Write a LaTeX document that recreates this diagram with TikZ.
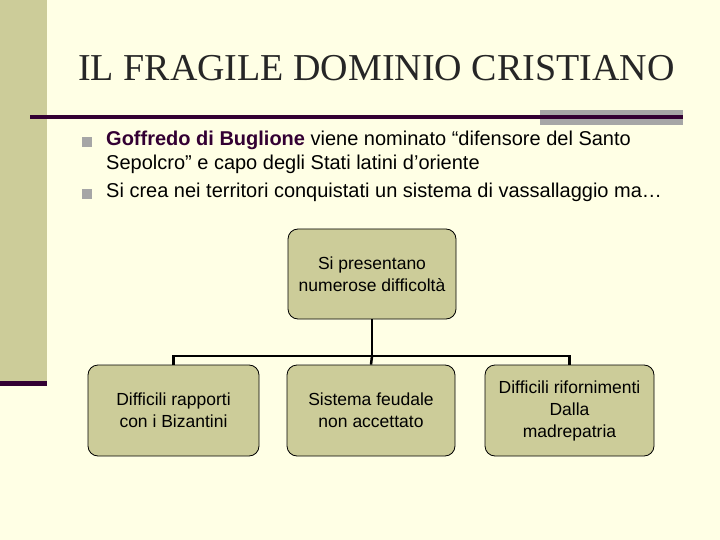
\documentclass[tikz,border=0pt]{standalone}
\usepackage{fontspec}
\setmainfont{Liberation Sans}
\newfontfamily\titlefont{Liberation Serif}
\definecolor{bg}{HTML}{FFFFE5}
\definecolor{tan}{HTML}{CCCC99}
\definecolor{dk}{HTML}{330033}
\definecolor{gr}{HTML}{A6A6A6}
\begin{document}
\begin{tikzpicture}[x=1pt,y=-1pt,
  box/.style={draw=black,fill=tan,rounded corners=10pt,line width=0.8pt,align=center,font=\fontsize{17.5}{22}\selectfont,inner sep=0pt},
  conn/.style={line width=2.5pt,black},
  bul/.style={fill=gr,minimum size=10pt,inner sep=0pt}]
\fill[bg] (0,0) rectangle (720,540);
\useasboundingbox (0,0) rectangle (720,540);
\fill[tan] (0,0) rectangle (47,385);
\fill[dk] (0,381) rectangle (47,386);
\fill[gr] (540,110) rectangle (683,125);
\fill[dk] (30,115.5) rectangle (683,119);
\node[anchor=west,font=\titlefont\fontsize{38}{44}\selectfont,text=black!85,inner sep=0pt] (title) at (78,68) {IL FRAGILE DOMINIO CRISTIANO};
\node[bul] (b1) at (87,142) {};
\node[bul] (b2) at (87,194) {};
\node[anchor=north west,align=left,font=\fontsize{20}{24}\selectfont,inner sep=0pt] (t1) at (106,131) {\textbf{\color{dk}Goffredo di Buglione} viene nominato “difensore del Santo\\Sepolcro” e capo degli Stati latini d’oriente};
\node[anchor=north west,font=\fontsize{20}{24}\selectfont,inner sep=0pt] (t2) at (106,183) {Si crea nei territori conquistati un sistema di vassallaggio ma…};
\node[box,minimum width=168pt,minimum height=90pt] (top) at (372,274) {Si presentano\\numerose difficoltà};
\node[box,minimum width=171pt,minimum height=91pt] (l) at (173.5,410.5) {Difficili rapporti\\con i Bizantini};
\node[box,minimum width=168pt,minimum height=91pt] (m) at (371,410.5) {Sistema feudale\\non accettato};
\node[box,minimum width=169pt,minimum height=91pt] (r) at (569.5,410.5) {Difficili rifornimenti\\Dalla\\madrepatria};
\coordinate (j) at (372,356);
\draw[conn] (top.south) -- (j);
\draw[conn] (l.north) |- (j) -| (r.north);
\draw[conn] (j) -- (m.north);
\end{tikzpicture}
\end{document}
